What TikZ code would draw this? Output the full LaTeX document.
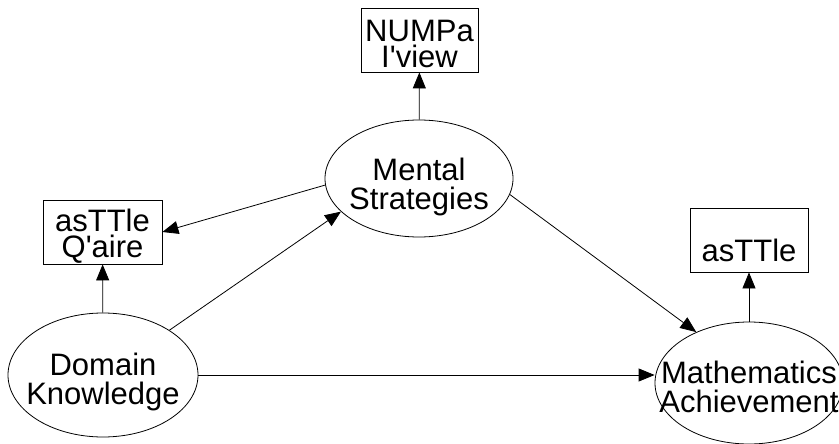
\documentclass[tikz,border=0pt]{standalone}
\usepackage{fontspec}
\newfontfamily\arialfont{Liberation Sans}
\usetikzlibrary{arrows.meta,shapes.geometric}
\tikzset{>={Triangle[length=16pt,width=13pt]}}

\begin{document}
\begin{tikzpicture}[x=1pt,y=-1pt,line width=0.8pt,
  latent/.style={draw,ellipse,inner sep=0pt},
  obs/.style={draw,rectangle,inner sep=0pt,minimum width=118pt,minimum height=64pt},
  lbl/.style={inner sep=0pt,align=center,font=\arialfont\fontsize{31}{29}\selectfont}]
  \useasboundingbox (0,0) rectangle (839,444);
  % latent variables
  \node[latent,minimum width=188pt,minimum height=117pt] (ms) at (419,178.5) {};
  \node[latent,minimum width=190pt,minimum height=124pt] (dk) at (103,375) {};
  \node[latent,minimum width=188pt,minimum height=122pt] (math) at (749,383) {};
  \node[lbl,yshift=-8pt] (mstxt) at (ms) {Mental\\Strategies};
  \node[lbl,yshift=-7pt] (dktxt) at (dk) {Domain\\Knowledge};
  \node[lbl,yshift=-4pt] (mathtxt) at (math) {Mathematics\\Achievement};
  % observed measures
  \node[obs,minimum width=117pt] (numpa) at (419.5,40) {};
  \node[obs,minimum width=119pt] (qaire) at (102.5,232) {};
  \node[obs] (asttle) at (749,240) {};
  \node[lbl,font=\arialfont\fontsize{31}{26}\selectfont,yshift=-4pt] (numpatxt) at (numpa) {NUMPa\\I'view};
  \node[lbl,font=\arialfont\fontsize{31}{26}\selectfont,yshift=-4pt] (qairetxt) at (qaire) {asTTle\\Q'aire};
  \node[lbl,yshift=-10pt] (asttletxt) at (asttle) {asTTle};
  % paths
  \draw[->] (ms) -- (numpa);
  \draw[->] (ms.184) -- (qaire.east);
  \draw[->] (dk) -- (qaire);
  \draw[->] (dk.34) -- (ms.203);
  \draw[->] (dk.east) -- (dk.east -| math.west);
  \draw[->] (ms.350) -- (math.136);
  \draw[->] (math) -- (asttle);
\end{tikzpicture}
\end{document}
